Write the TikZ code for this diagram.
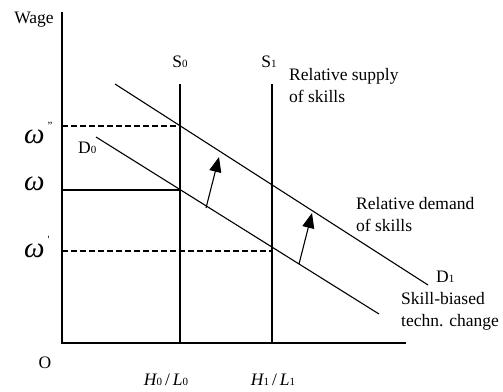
\documentclass[tikz,border=0pt]{standalone}
\usepackage{fontspec}
\setmainfont{Liberation Serif}
\usetikzlibrary{arrows.meta}
\newcommand{\lbl}{\fontsize{17.5}{22}\selectfont}
\newcommand{\ind}[1]{{\fontsize{11}{11}\selectfont #1}}
\newcommand{\om}{{\fontsize{29}{29}\selectfont\itshape ω}}
\tikzset{
  courbe/.style={line width=1.1pt},
  tirets/.style={line width=1.4pt, dash pattern=on 6pt off 3pt},
  fleche/.style={line width=1.1pt, -{Triangle[length=15pt,width=12pt]}},
  texte/.style={inner sep=0pt, font=\lbl, align=left}
}
\begin{document}
\begin{tikzpicture}[x=1pt,y=-1pt]
        \useasboundingbox (0,0) rectangle (503,391);
        \fill[white] (0,0) rectangle (503,391);

        % Axes
        \coordinate (O) at (62,343);
        \coordinate (Yhaut) at (62,12);
        \coordinate (Xfin) at (406,343);
        \draw[line width=1.3pt] (Yhaut) -- (O) -- (Xfin);

        % Offre relative S0 et S1
        \coordinate (S0haut) at (180,84);
        \coordinate (S0bas) at (180,343);
        \coordinate (S1haut) at (272,84);
        \coordinate (S1bas) at (272,343);
        \draw[courbe] (S0haut) -- (S0bas);
        \draw[courbe] (S1haut) -- (S1bas);

        % Demande relative D0 et D1
        \coordinate (D0debut) at (96,137);
        \coordinate (D0fin) at (379,314);
        \coordinate (D1debut) at (115,84);
        \coordinate (D1fin) at (428,285);
        \draw[courbe] (D0debut) -- (D0fin);
        \draw[courbe] (D1debut) -- (D1fin);

        % Salaires
        \coordinate (Wsec) at (62,126);
        \coordinate (Psec) at (180,126);
        \coordinate (W) at (62,190);
        \coordinate (P) at (180,190);
        \coordinate (Wprime) at (62,251);
        \coordinate (Pprime) at (272,251);
        \draw[tirets] (Wsec) -- (Psec);
        \draw[courbe] (W) -- (P);
        \draw[tirets] (Wprime) -- (Pprime);

        % Deplacement de la demande
        \coordinate (A1) at (206,208);
        \coordinate (B1) at (219,157);
        \coordinate (A2) at (299,264);
        \coordinate (B2) at (312,213);
        \draw[fleche] (A1) -- (B1);
        \draw[fleche] (A2) -- (B2);

        % Etiquettes
        \node[texte, anchor=base] (wage) at (34,23) {Wage};
        \node[texte, anchor=base] (origine) at (45,368) {O};
        \node[texte, anchor=base] (s0) at (180,67) {S\ind{0}};
        \node[texte, anchor=base] (s1) at (269,67) {S\ind{1}};
        \node[texte, anchor=base west] (d0) at (78,153) {D\ind{0}};
        \node[texte, anchor=base west] (d1) at (436,282) {D\ind{1}};
        \node[texte, anchor=base west] (wsec) at (24,143) {\om\,\raisebox{14pt}{\ind{"}}};
        \node[texte, anchor=base west] (w) at (24,190) {\om};
        \node[texte, anchor=base west] (wprime) at (24,257) {\om\,\raisebox{14pt}{\ind{\textquotesingle}}};
        \node[texte, anchor=north west] (offre) at (289,68) {Relative supply\\of skills};
        \node[texte, anchor=north west] (demande) at (356,197) {Relative demand\\of skills};
        \node[texte, anchor=north west] (progres) at (401,292) {Skill-biased\\techn. change};
        \node[texte, anchor=base] (h0) at (166,385) {{\itshape H}\ind{0}\,/\,{\itshape L}\ind{0}};
        \node[texte, anchor=base] (h1) at (273,385) {{\itshape H}\ind{1}\,/\,{\itshape L}\ind{1}};
    \end{tikzpicture}
\end{document}
